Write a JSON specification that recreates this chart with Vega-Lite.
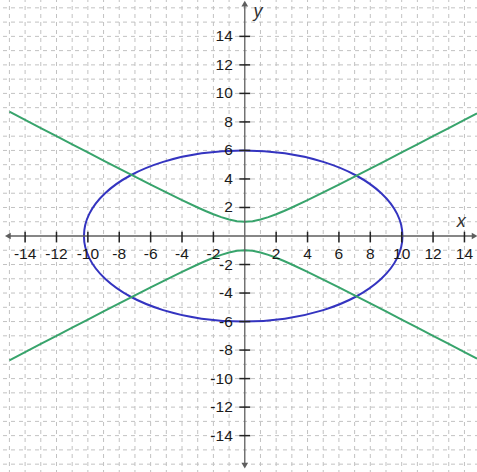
{
  "$schema": "https://vega.github.io/schema/vega-lite/v6.json",
  "width": 477,
  "height": 472,
  "autosize": "none",
  "padding": 0,
  "background": "white",
  "config": {"view": {"stroke": null}},
  "datasets": {
    "gx": [
      {"v": -15}, {"v": -14}, {"v": -13}, {"v": -12}, {"v": -11}, {"v": -10}, {"v": -9}, {"v": -8}, {"v": -7}, {"v": -6},
      {"v": -5}, {"v": -4}, {"v": -3}, {"v": -2}, {"v": -1}, {"v": 1}, {"v": 2}, {"v": 3}, {"v": 4}, {"v": 5},
      {"v": 6}, {"v": 7}, {"v": 8}, {"v": 9}, {"v": 10}, {"v": 11}, {"v": 12}, {"v": 13}, {"v": 14}
    ],
    "gy": [
      {"v": -16}, {"v": -15}, {"v": -14}, {"v": -13}, {"v": -12}, {"v": -11}, {"v": -10}, {"v": -9}, {"v": -8}, {"v": -7},
      {"v": -6}, {"v": -5}, {"v": -4}, {"v": -3}, {"v": -2}, {"v": -1}, {"v": 1}, {"v": 2}, {"v": 3}, {"v": 4},
      {"v": 5}, {"v": 6}, {"v": 7}, {"v": 8}, {"v": 9}, {"v": 10}, {"v": 11}, {"v": 12}, {"v": 13}, {"v": 14},
      {"v": 15}, {"v": 16}
    ],
    "ellipse": [
      {"i": 0, "x": 10.05, "y": 0}, {"i": 1, "x": 9.71, "y": 1.553}, {"i": 2, "x": 8.7, "y": 3.0},
      {"i": 3, "x": 7.1, "y": 4.243}, {"i": 4, "x": 5.0, "y": 5.196}, {"i": 5, "x": 2.55, "y": 5.796},
      {"i": 6, "x": -0.1, "y": 6}, {"i": 7, "x": -2.75, "y": 5.796}, {"i": 8, "x": -5.2, "y": 5.196},
      {"i": 9, "x": -7.3, "y": 4.243}, {"i": 10, "x": -8.9, "y": 3}, {"i": 11, "x": -9.91, "y": 1.553},
      {"i": 12, "x": -10.25, "y": 0}, {"i": 13, "x": -9.91, "y": -1.553}, {"i": 14, "x": -8.9, "y": -3},
      {"i": 15, "x": -7.3, "y": -4.243}, {"i": 16, "x": -5.2, "y": -5.196}, {"i": 17, "x": -2.75, "y": -5.796},
      {"i": 18, "x": -0.1, "y": -6}, {"i": 19, "x": 2.55, "y": -5.796}, {"i": 20, "x": 5, "y": -5.196},
      {"i": 21, "x": 7.1, "y": -4.243}, {"i": 22, "x": 8.7, "y": -3}, {"i": 23, "x": 9.71, "y": -1.553}
    ],
    "hyper": [
      {"b": "up", "x": -15, "y": 8.718}, {"b": "up", "x": -14, "y": 8.145}, {"b": "up", "x": -13, "y": 7.572},
      {"b": "up", "x": -12, "y": 7.0}, {"b": "up", "x": -11, "y": 6.429}, {"b": "up", "x": -10, "y": 5.859},
      {"b": "up", "x": -9, "y": 5.292}, {"b": "up", "x": -8, "y": 4.726}, {"b": "up", "x": -7, "y": 4.163},
      {"b": "up", "x": -6, "y": 3.606}, {"b": "up", "x": -5, "y": 3.055}, {"b": "up", "x": -4, "y": 2.517},
      {"b": "up", "x": -3, "y": 2.0}, {"b": "up", "x": -2.5, "y": 1.756}, {"b": "up", "x": -2, "y": 1.528},
      {"b": "up", "x": -1.5, "y": 1.323}, {"b": "up", "x": -1, "y": 1.155}, {"b": "up", "x": -0.5, "y": 1.041},
      {"b": "up", "x": 0, "y": 1.0}, {"b": "up", "x": 0.5, "y": 1.041}, {"b": "up", "x": 1, "y": 1.155},
      {"b": "up", "x": 1.5, "y": 1.323}, {"b": "up", "x": 2, "y": 1.528}, {"b": "up", "x": 2.5, "y": 1.756},
      {"b": "up", "x": 3, "y": 2.0}, {"b": "up", "x": 4, "y": 2.517}, {"b": "up", "x": 5, "y": 3.055},
      {"b": "up", "x": 6, "y": 3.606}, {"b": "up", "x": 7, "y": 4.163}, {"b": "up", "x": 8, "y": 4.726},
      {"b": "up", "x": 9, "y": 5.292}, {"b": "up", "x": 10, "y": 5.859}, {"b": "up", "x": 11, "y": 6.429},
      {"b": "up", "x": 12, "y": 7.0}, {"b": "up", "x": 13, "y": 7.572}, {"b": "up", "x": 14, "y": 8.145},
      {"b": "up", "x": 14.8, "y": 8.604},
      {"b": "down", "x": -15, "y": -8.718}, {"b": "down", "x": -14, "y": -8.145}, {"b": "down", "x": -13, "y": -7.572},
      {"b": "down", "x": -12, "y": -7.0}, {"b": "down", "x": -11, "y": -6.429}, {"b": "down", "x": -10, "y": -5.859},
      {"b": "down", "x": -9, "y": -5.292}, {"b": "down", "x": -8, "y": -4.726}, {"b": "down", "x": -7, "y": -4.163},
      {"b": "down", "x": -6, "y": -3.606}, {"b": "down", "x": -5, "y": -3.055}, {"b": "down", "x": -4, "y": -2.517},
      {"b": "down", "x": -3, "y": -2.0}, {"b": "down", "x": -2.5, "y": -1.756}, {"b": "down", "x": -2, "y": -1.528},
      {"b": "down", "x": -1.5, "y": -1.323}, {"b": "down", "x": -1, "y": -1.155}, {"b": "down", "x": -0.5, "y": -1.041},
      {"b": "down", "x": 0, "y": -1.0}, {"b": "down", "x": 0.5, "y": -1.041}, {"b": "down", "x": 1, "y": -1.155},
      {"b": "down", "x": 1.5, "y": -1.323}, {"b": "down", "x": 2, "y": -1.528}, {"b": "down", "x": 2.5, "y": -1.756},
      {"b": "down", "x": 3, "y": -2.0}, {"b": "down", "x": 4, "y": -2.517}, {"b": "down", "x": 5, "y": -3.055},
      {"b": "down", "x": 6, "y": -3.606}, {"b": "down", "x": 7, "y": -4.163}, {"b": "down", "x": 8, "y": -4.726},
      {"b": "down", "x": 9, "y": -5.292}, {"b": "down", "x": 10, "y": -5.859}, {"b": "down", "x": 11, "y": -6.429},
      {"b": "down", "x": 12, "y": -7.0}, {"b": "down", "x": 13, "y": -7.572}, {"b": "down", "x": 14, "y": -8.145},
      {"b": "down", "x": 14.8, "y": -8.604}
    ],
    "ticks": [
      {"v": -14, "t": "-14"}, {"v": -12, "t": "-12"}, {"v": -10, "t": "-10"}, {"v": -8, "t": "-8"},
      {"v": -6, "t": "-6"}, {"v": -4, "t": "-4"}, {"v": -2, "t": "-2"}, {"v": 2, "t": "2"},
      {"v": 4, "t": "4"}, {"v": 6, "t": "6"}, {"v": 8, "t": "8"}, {"v": 10, "t": "10"},
      {"v": 12, "t": "12"}, {"v": 14, "t": "14"}
    ],
    "axes": [
      {"x": -15.05, "x2": 14.6, "y": 0, "y2": 0},
      {"x": 0, "x2": 0, "y": -16.0, "y2": 16.2}
    ],
    "arrows": [
      {"x": -15.1, "y": 0, "shape": "triangle-left"},
      {"x": 14.65, "y": 0, "shape": "triangle-right"},
      {"x": 0, "y": 16.3, "shape": "triangle-up"},
      {"x": 0, "y": -16.1, "shape": "triangle-down"}
    ],
    "names": [
      {"x": 13.8, "y": 1.0, "t": "x"},
      {"x": 0.85, "y": 15.7, "t": "y"}
    ]
  },
  "layer": [
    {
      "data": {"name": "gx"},
      "mark": {"type": "rule", "color": "#c2c2c2", "strokeWidth": 1, "strokeDash": [4, 4], "strokeDashOffset": 2},
      "encoding": {
        "x": {"field": "v", "type": "quantitative",
          "scale": {"domain": [-15.6, 14.8], "nice": false, "zero": false}, "axis": null}
      }
    },
    {
      "data": {"name": "gy"},
      "mark": {"type": "rule", "color": "#c2c2c2", "strokeWidth": 1, "strokeDash": [4, 4], "strokeDashOffset": 2},
      "encoding": {
        "y": {"field": "v", "type": "quantitative",
          "scale": {"domain": [-16.55, 16.55], "nice": false, "zero": false}, "axis": null}
      }
    },
    {
      "data": {"name": "ellipse"},
      "mark": {"type": "line", "color": "#3434c0", "strokeWidth": 2, "interpolate": "cardinal-closed"},
      "encoding": {
        "x": {"field": "x", "type": "quantitative", "axis": null},
        "y": {"field": "y", "type": "quantitative", "axis": null},
        "order": {"field": "i", "type": "quantitative"}
      }
    },
    {
      "data": {"name": "hyper"},
      "mark": {"type": "line", "color": "#38a46c", "strokeWidth": 2},
      "encoding": {
        "x": {"field": "x", "type": "quantitative", "axis": null},
        "y": {"field": "y", "type": "quantitative", "axis": null},
        "detail": {"field": "b"}
      }
    },
    {
      "data": {"name": "axes"},
      "mark": {"type": "rule", "color": "#5e5e5e", "strokeWidth": 1.3},
      "encoding": {
        "x": {"field": "x", "type": "quantitative", "axis": null},
        "x2": {"field": "x2"},
        "y": {"field": "y", "type": "quantitative", "axis": null},
        "y2": {"field": "y2"}
      }
    },
    {
      "data": {"name": "ticks"},
      "mark": {"type": "rule", "color": "#222222", "strokeWidth": 1.5},
      "encoding": {
        "x": {"field": "v", "type": "quantitative", "axis": null},
        "y": {"datum": -0.45, "type": "quantitative", "axis": null},
        "y2": {"datum": 0.3}
      }
    },
    {
      "data": {"name": "ticks"},
      "mark": {"type": "rule", "color": "#222222", "strokeWidth": 1.5},
      "encoding": {
        "y": {"field": "v", "type": "quantitative", "axis": null},
        "x": {"datum": -0.35, "type": "quantitative", "axis": null},
        "x2": {"datum": 0.35}
      }
    },
    {
      "data": {"name": "arrows"},
      "mark": {"type": "point", "filled": true, "color": "#5e5e5e", "size": 45, "opacity": 1},
      "encoding": {
        "x": {"field": "x", "type": "quantitative", "axis": null},
        "y": {"field": "y", "type": "quantitative", "axis": null},
        "shape": {"field": "shape", "type": "nominal", "scale": null}
      }
    },
    {
      "data": {"name": "ticks"},
      "mark": {"type": "text", "font": "Liberation Sans", "fontSize": 15.5, "color": "#1a1a1a", "align": "center", "baseline": "middle", "dy": 18},
      "encoding": {
        "x": {"field": "v", "type": "quantitative", "axis": null},
        "y": {"datum": 0, "type": "quantitative", "axis": null},
        "text": {"field": "t"}
      }
    },
    {
      "data": {"name": "ticks"},
      "mark": {"type": "text", "font": "Liberation Sans", "fontSize": 15.5, "color": "#1a1a1a", "align": "right", "baseline": "middle", "dx": -12},
      "encoding": {
        "y": {"field": "v", "type": "quantitative", "axis": null},
        "x": {"datum": 0, "type": "quantitative", "axis": null},
        "text": {"field": "t"}
      }
    },
    {
      "data": {"name": "names"},
      "mark": {"type": "text", "font": "Liberation Sans", "fontSize": 18, "fontStyle": "italic", "color": "#333333", "align": "center", "baseline": "middle"},
      "encoding": {
        "x": {"field": "x", "type": "quantitative", "axis": null},
        "y": {"field": "y", "type": "quantitative", "axis": null},
        "text": {"field": "t"}
      }
    }
  ]
}
